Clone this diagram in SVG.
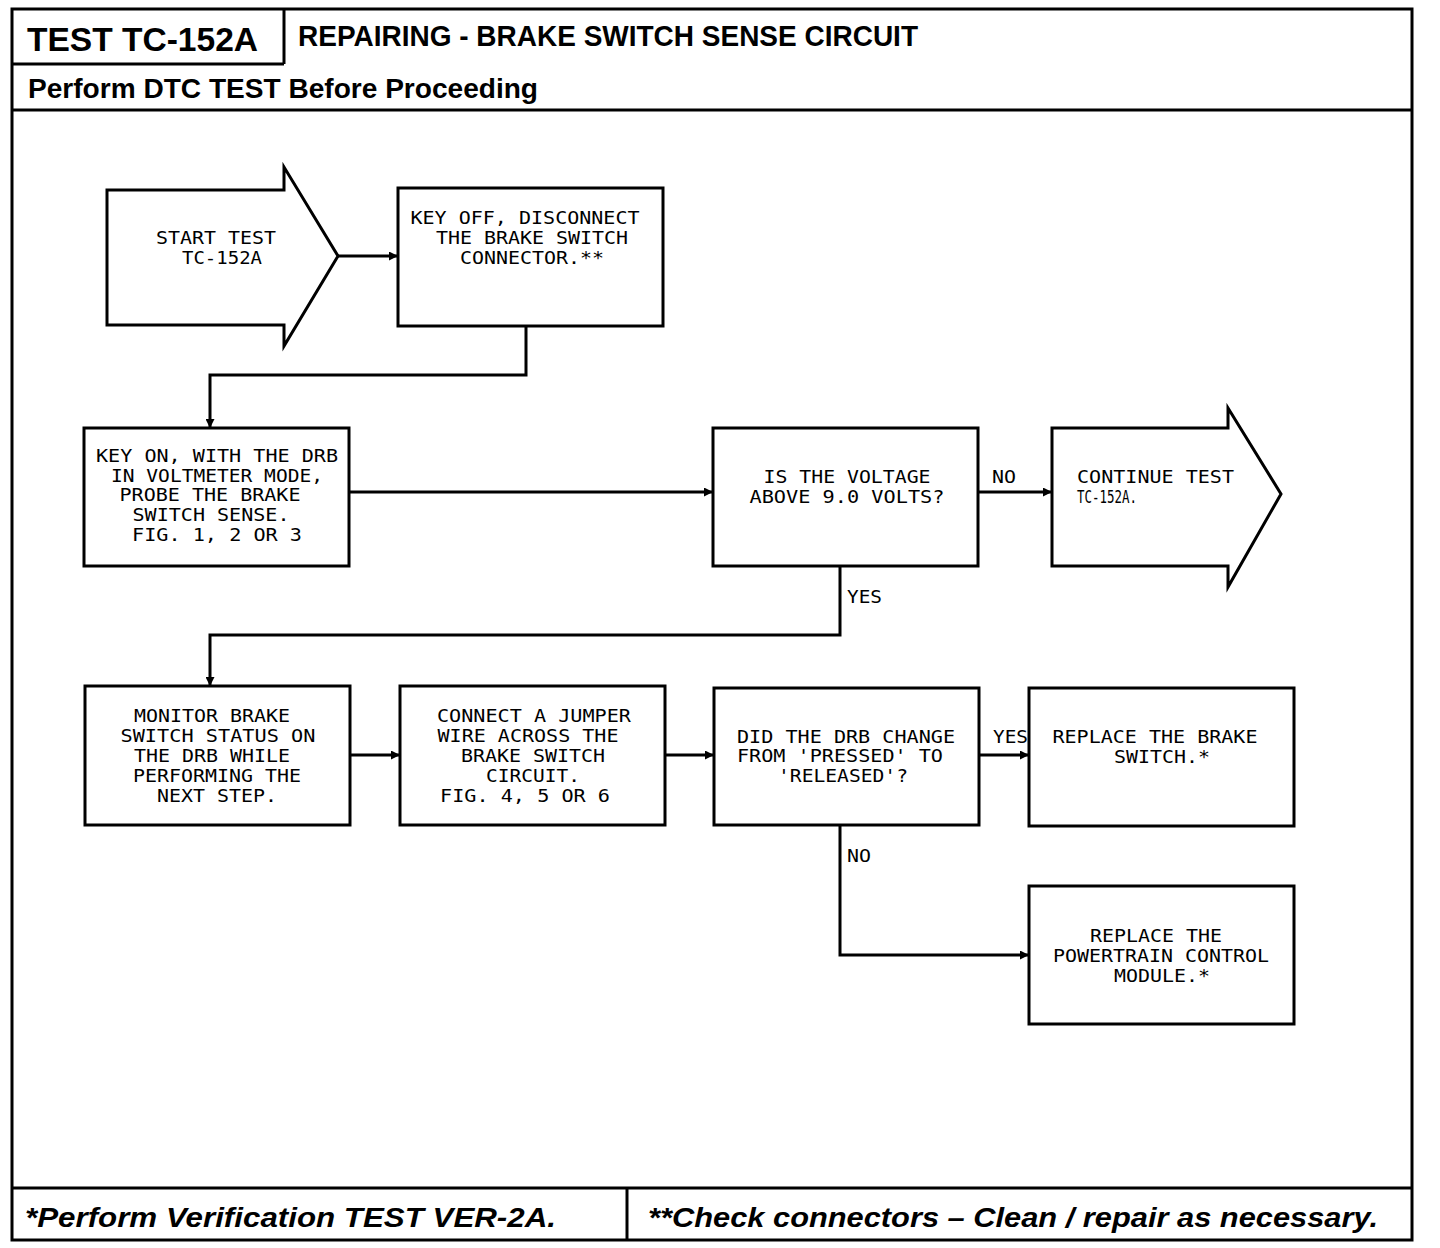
<svg xmlns="http://www.w3.org/2000/svg" width="1440" height="1248" viewBox="0 0 1440 1248">
<style>
.frame{fill:none;stroke:#000;stroke-width:3}
.box{fill:#fff;stroke:#000;stroke-width:3}
.con{fill:none;stroke:#000;stroke-width:3}
.t{font-family:"DejaVu Sans Mono","Liberation Mono",monospace;font-size:17px;fill:#000}
.c{text-anchor:middle}
.h{font-family:"Liberation Sans",Arial,sans-serif;font-weight:bold;fill:#000}
.f{font-family:"Liberation Sans",Arial,sans-serif;font-weight:bold;font-style:italic;fill:#000;font-size:28px}
</style>
<defs>
<marker id="ah" viewBox="0 0 10 10" refX="10" refY="5" markerWidth="9" markerHeight="9" markerUnits="userSpaceOnUse" orient="auto">
<path d="M0,0 L10,5 L0,10 Z" fill="#000"/>
</marker>
</defs>
<rect width="1440" height="1248" fill="#fff"/>
<g id="frame">
<rect class="frame" x="12" y="9" width="1400" height="1231"/>
<line class="frame" x1="12" y1="64" x2="284" y2="64"/>
<line class="frame" x1="284" y1="9" x2="284" y2="64"/>
<line class="frame" x1="12" y1="110" x2="1412" y2="110"/>
<line class="frame" x1="12" y1="1188" x2="1412" y2="1188"/>
<line class="frame" x1="627" y1="1188" x2="627" y2="1240"/>
<text class="h" x="27" y="51" font-size="34" textLength="231" lengthAdjust="spacingAndGlyphs">TEST TC-152A</text>
<text class="h" x="298" y="46" font-size="29" textLength="620" lengthAdjust="spacingAndGlyphs">REPAIRING - BRAKE SWITCH SENSE CIRCUIT</text>
<text class="h" x="28" y="98" font-size="27" textLength="510" lengthAdjust="spacingAndGlyphs">Perform DTC TEST Before Proceeding</text>
<text class="f" x="25" y="1227" textLength="531" lengthAdjust="spacingAndGlyphs">*Perform  Verification TEST VER-2A.</text>
<text class="f" x="648" y="1227" textLength="730" lengthAdjust="spacingAndGlyphs">**Check connectors – Clean / repair as necessary.</text>
</g>
<g id="connectors">
<path class="con" d="M338,256 H398" marker-end="url(#ah)"/>
<path class="con" d="M526,326 V375 H210 V428" marker-end="url(#ah)"/>
<path class="con" d="M349,492 H713" marker-end="url(#ah)"/>
<path class="con" d="M978,492 H1052" marker-end="url(#ah)"/>
<path class="con" d="M840,566 V635 H210 V686" marker-end="url(#ah)"/>
<path class="con" d="M350,755 H400" marker-end="url(#ah)"/>
<path class="con" d="M665,755 H714" marker-end="url(#ah)"/>
<path class="con" d="M979,755 H1029" marker-end="url(#ah)"/>
<path class="con" d="M840,825 V955 H1029" marker-end="url(#ah)"/>
<text class="t" x="992" y="483" textLength="24" lengthAdjust="spacingAndGlyphs">NO</text>
<text class="t" x="847" y="603" textLength="35" lengthAdjust="spacingAndGlyphs">YES</text>
<text class="t" x="993" y="743" textLength="35" lengthAdjust="spacingAndGlyphs">YES</text>
<text class="t" x="847" y="862" textLength="24" lengthAdjust="spacingAndGlyphs">NO</text>
</g>
<g id="start">
<path class="box" d="M107,190 H284 V167 L338,256 L284,346 V325 H107 Z"/>
<text class="t c" x="216" y="244" textLength="120" lengthAdjust="spacingAndGlyphs">START TEST</text>
<text class="t c" x="222" y="264" textLength="80" lengthAdjust="spacingAndGlyphs">TC-152A</text>
</g>
<g id="key-off">
<rect class="box" x="398" y="188" width="265" height="138"/>
<text class="t c" x="525" y="224" textLength="229" lengthAdjust="spacingAndGlyphs">KEY OFF, DISCONNECT</text>
<text class="t c" x="532" y="244" textLength="192" lengthAdjust="spacingAndGlyphs">THE BRAKE SWITCH</text>
<text class="t c" x="532" y="264" textLength="144" lengthAdjust="spacingAndGlyphs">CONNECTOR.**</text>
</g>
<g id="key-on">
<rect class="box" x="84" y="428" width="265" height="138"/>
<text class="t c" x="217" y="462" textLength="242" lengthAdjust="spacingAndGlyphs">KEY ON, WITH THE DRB</text>
<text class="t c" x="217" y="482" textLength="212" lengthAdjust="spacingAndGlyphs">IN VOLTMETER MODE,</text>
<text class="t c" x="210" y="501" textLength="181" lengthAdjust="spacingAndGlyphs">PROBE THE BRAKE</text>
<text class="t c" x="211" y="521" textLength="157" lengthAdjust="spacingAndGlyphs">SWITCH SENSE.</text>
<text class="t c" x="217" y="541" textLength="170" lengthAdjust="spacingAndGlyphs">FIG. 1, 2 OR 3</text>
</g>
<g id="voltage-check">
<rect class="box" x="713" y="428" width="265" height="138"/>
<text class="t c" x="847" y="483" textLength="167" lengthAdjust="spacingAndGlyphs">IS THE VOLTAGE</text>
<text class="t c" x="847" y="503" textLength="195" lengthAdjust="spacingAndGlyphs">ABOVE 9.0 VOLTS?</text>
</g>
<g id="continue">
<path class="box" d="M1052,428 H1228 V408 L1281,494 L1228,587 V566 H1052 Z"/>
<text class="t" x="1077" y="483" textLength="157" lengthAdjust="spacingAndGlyphs">CONTINUE TEST</text>
<text class="t" x="1077" y="503" textLength="60" lengthAdjust="spacingAndGlyphs">TC-152A.</text>
</g>
<g id="monitor">
<rect class="box" x="85" y="686" width="265" height="139"/>
<text class="t c" x="212" y="722" textLength="156" lengthAdjust="spacingAndGlyphs">MONITOR BRAKE</text>
<text class="t c" x="218" y="742" textLength="195" lengthAdjust="spacingAndGlyphs">SWITCH STATUS ON</text>
<text class="t c" x="212" y="762" textLength="156" lengthAdjust="spacingAndGlyphs">THE DRB WHILE</text>
<text class="t c" x="217" y="782" textLength="168" lengthAdjust="spacingAndGlyphs">PERFORMING THE</text>
<text class="t c" x="217" y="802" textLength="120" lengthAdjust="spacingAndGlyphs">NEXT STEP.</text>
</g>
<g id="jumper">
<rect class="box" x="400" y="686" width="265" height="139"/>
<text class="t c" x="534" y="722" textLength="194" lengthAdjust="spacingAndGlyphs">CONNECT A JUMPER</text>
<text class="t c" x="528" y="742" textLength="181" lengthAdjust="spacingAndGlyphs">WIRE ACROSS THE</text>
<text class="t c" x="533" y="762" textLength="144" lengthAdjust="spacingAndGlyphs">BRAKE SWITCH</text>
<text class="t c" x="533" y="782" textLength="94" lengthAdjust="spacingAndGlyphs">CIRCUIT.</text>
<text class="t c" x="525" y="802" textLength="170" lengthAdjust="spacingAndGlyphs">FIG. 4, 5 OR 6</text>
</g>
<g id="drb-change">
<rect class="box" x="714" y="688" width="265" height="137"/>
<text class="t c" x="846" y="743" textLength="218" lengthAdjust="spacingAndGlyphs">DID THE DRB CHANGE</text>
<text class="t c" x="840" y="762" textLength="206" lengthAdjust="spacingAndGlyphs">FROM 'PRESSED' TO</text>
<text class="t c" x="843" y="782" textLength="130" lengthAdjust="spacingAndGlyphs">'RELEASED'?</text>
</g>
<g id="replace-switch">
<rect class="box" x="1029" y="688" width="265" height="138"/>
<text class="t c" x="1155" y="743" textLength="205" lengthAdjust="spacingAndGlyphs">REPLACE THE BRAKE</text>
<text class="t c" x="1162" y="763" textLength="96" lengthAdjust="spacingAndGlyphs">SWITCH.*</text>
</g>
<g id="replace-pcm">
<rect class="box" x="1029" y="886" width="265" height="138"/>
<text class="t c" x="1156" y="942" textLength="132" lengthAdjust="spacingAndGlyphs">REPLACE THE</text>
<text class="t c" x="1161" y="962" textLength="216" lengthAdjust="spacingAndGlyphs">POWERTRAIN CONTROL</text>
<text class="t c" x="1162" y="982" textLength="96" lengthAdjust="spacingAndGlyphs">MODULE.*</text>
</g>
</svg>
